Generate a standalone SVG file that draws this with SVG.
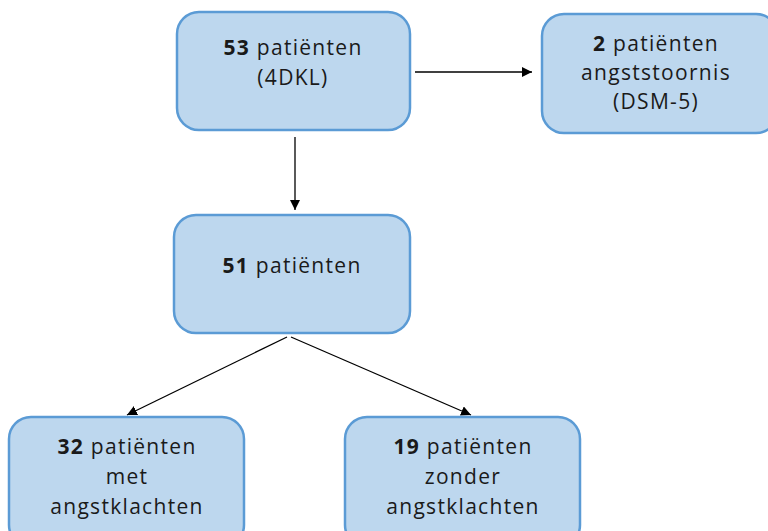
<svg xmlns="http://www.w3.org/2000/svg" width="768" height="531" viewBox="0 0 768 531">
<defs>
<style>
.box{fill:#BDD7EE;stroke:#5B9BD5;stroke-width:2.5}
text{font-family:"Open Sans","Liberation Sans",sans-serif;font-size:21px;letter-spacing:1.3px;fill:#1a1a1a;text-anchor:middle}
.b{font-weight:bold}
.c{stroke:#000;stroke-width:1.3;fill:none}
</style>
<marker id="ah" viewBox="0 0 10 10" refX="10" refY="5" markerWidth="10" markerHeight="10" markerUnits="userSpaceOnUse" orient="auto">
<path d="M0,0 L10,5 L0,10 z" fill="#000"/>
</marker>
</defs>
<g id="connectors">
<line class="c" x1="415" y1="72" x2="532" y2="72" marker-end="url(#ah)"/>
<line class="c" x1="295" y1="137" x2="295" y2="210" marker-end="url(#ah)"/>
<line class="c" x1="287" y1="337" x2="127" y2="415" marker-end="url(#ah)"/>
<line class="c" x1="291" y1="337" x2="471" y2="415" marker-end="url(#ah)"/>
</g>
<g id="n1">
<rect class="box" x="177" y="12" width="233" height="118" rx="22"/>
<text x="293" y="55"><tspan class="b">53</tspan> patiënten</text>
<text x="293" y="85">(4DKL)</text>
</g>
<g id="n2">
<rect class="box" x="542" y="14" width="236" height="119" rx="22"/>
<text x="656" y="51"><tspan class="b">2</tspan> patiënten</text>
<text x="656" y="80">angststoornis</text>
<text x="656" y="109">(DSM-5)</text>
</g>
<g id="n3">
<rect class="box" x="174" y="215" width="236" height="118" rx="22"/>
<text x="292" y="273"><tspan class="b">51</tspan> patiënten</text>
</g>
<g id="n4">
<rect class="box" x="9" y="417" width="235" height="130" rx="22"/>
<text x="127" y="454"><tspan class="b">32</tspan> patiënten</text>
<text x="127" y="484">met</text>
<text x="127" y="514">angstklachten</text>
</g>
<g id="n5">
<rect class="box" x="345" y="417" width="235" height="130" rx="22"/>
<text x="463" y="454"><tspan class="b">19</tspan> patiënten</text>
<text x="463" y="484">zonder</text>
<text x="463" y="514">angstklachten</text>
</g>
</svg>
